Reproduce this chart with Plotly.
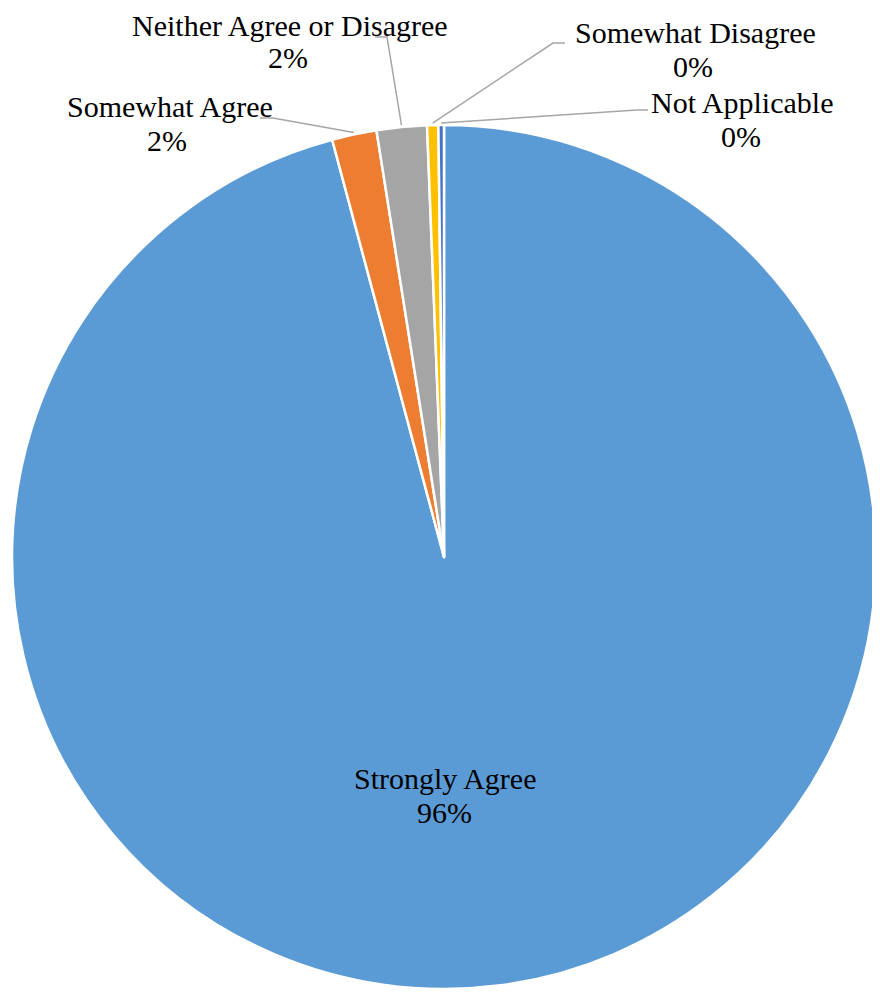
import math
import plotly.graph_objects as go

# ---- data ----
categories = ["Strongly Agree", "Somewhat Agree", "Neither Agree or Disagree",
              "Somewhat Disagree", "Not Applicable"]
counts = [460, 8, 9, 2, 1]
colors = ["#5B9BD5", "#ED7D31", "#A5A5A5", "#FFC000", "#4472C4"]

# ---- layout ----
# the page body has an 8px margin, so the figure is 8px smaller and
# all screen positions below are shifted by that margin
PAGE_W, PAGE_H, BODY = 880, 992, 8
W, H = PAGE_W - BODY, PAGE_H - BODY
FONT = "Liberation Serif, Times New Roman, serif"
FS = 30

PIE_LEFT, PIE_RIGHT, PIE_TOP, PIE_BOTTOM = 12, 876, 125, 989

# label line centres (screen px): (name line), (percent line)
label_pos = {
    "Strongly Agree": ((445, 778), (445, 812)),
    "Somewhat Agree": ((170, 106), (167, 141)),
    "Neither Agree or Disagree": ((290, 25), (288, 57)),
    "Somewhat Disagree": ((695, 32), (693, 67)),
    "Not Applicable": ((742, 102), (741, 136)),
}
leader = {
    "Somewhat Agree": [(273, 118), (260, 118)],
    "Neither Agree or Disagree": [(387, 37), (375, 37)],
    "Somewhat Disagree": [(553, 43), (565, 43)],
    "Not Applicable": [(637, 110), (648, 110)],
}


def px2paper(x, y):
    return (x - BODY) / W, (H - (y - BODY)) / H


dx0, dy1 = px2paper(PIE_LEFT, PIE_TOP)
dx1, dy0 = px2paper(PIE_RIGHT, PIE_BOTTOM)

fig = go.Figure(go.Pie(
    labels=categories,
    values=counts,
    sort=False,
    direction="clockwise",
    rotation=0,
    textinfo="none",
    marker=dict(colors=colors, line=dict(color="white", width=2.5)),
    domain=dict(x=[dx0, dx1], y=[dy0, dy1]),
    showlegend=False,
))

cx = (PIE_LEFT + PIE_RIGHT) / 2
cy = (PIE_TOP + PIE_BOTTOM) / 2
r = min(PIE_RIGHT - PIE_LEFT, PIE_BOTTOM - PIE_TOP) / 2

total = sum(counts)
cum = 0
annotations = []
shapes = []
for cat, v in zip(categories, counts):
    frac = v / total
    mid = (cum + frac / 2) * 2 * math.pi
    cum += frac
    pct = f"{round(frac * 100):.0f}%"
    (l1x, l1y), (l2x, l2y) = label_pos[cat]
    for txt, (lx, ly) in ((cat, (l1x, l1y)), (pct, (l2x, l2y))):
        px, py = px2paper(lx, ly)
        annotations.append(dict(
            x=px, y=py, xref="paper", yref="paper", showarrow=False,
            text=txt, xanchor="center", yanchor="middle",
            font=dict(family=FONT, size=FS, color="black"),
        ))
    if cat in leader:
        sx = cx + (r + 2) * math.sin(mid)
        sy = cy - (r + 2) * math.cos(mid)
        pts = [(sx, sy)] + leader[cat]
        path = "M " + " L ".join(
            f"{px2paper(x, y)[0]:.5f},{px2paper(x, y)[1]:.5f}" for x, y in pts)
        shapes.append(dict(type="path", path=path, xref="paper", yref="paper",
                           line=dict(color="#A6A6A6", width=1.5)))

fig.update_layout(
    width=W, height=H,
    margin=dict(l=0, r=0, t=0, b=0),
    paper_bgcolor="white", plot_bgcolor="white",
    annotations=annotations, shapes=shapes,
)

fig.write_html("out.html")
